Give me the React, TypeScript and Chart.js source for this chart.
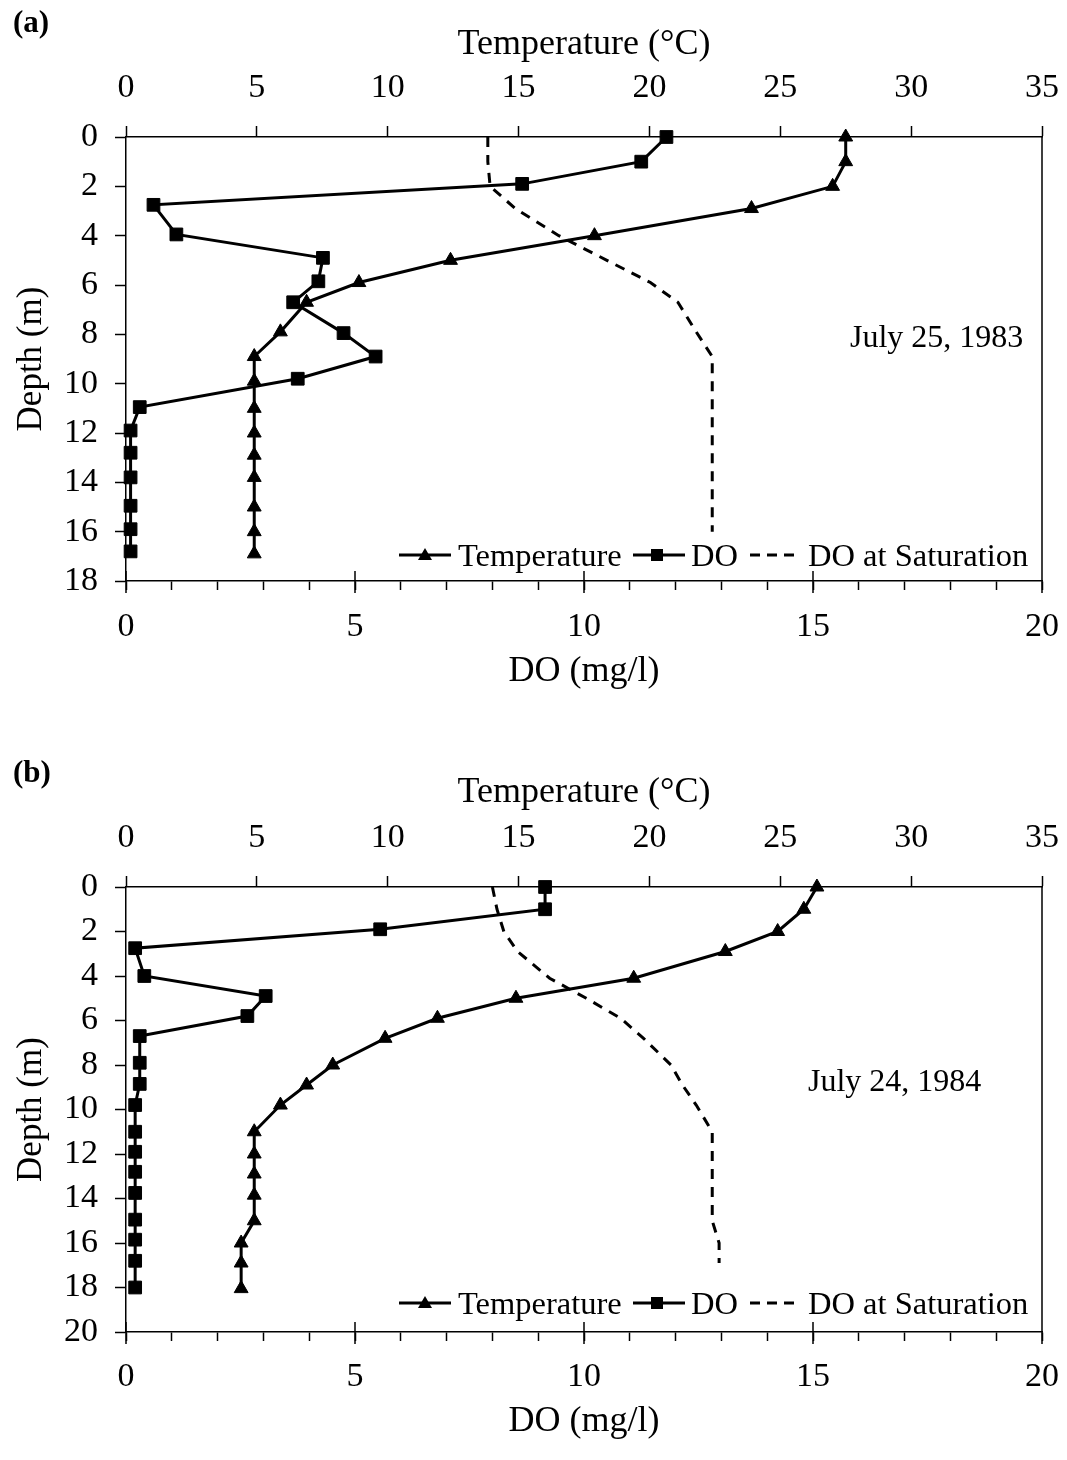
import React, { useEffect, useRef } from 'react';
import { Chart, registerables } from 'chart.js';

Chart.register(...registerables);

const FONT = '"Liberation Serif", "Times New Roman", serif';

// ---------- Panel (a): July 25, 1983 ----------
const tempDepthA = [0, 1, 2, 2.9, 4, 5, 5.9, 6.7, 7.9, 8.9, 9.9, 11, 12, 12.9, 13.8, 15, 16, 16.9];
const tempA = [27.5, 27.5, 27.0, 23.9, 17.9, 12.4, 8.9, 6.9, 5.9, 4.9, 4.9, 4.9, 4.9, 4.9, 4.9, 4.9, 4.9, 4.9];
const doDepthA = [0, 1, 1.9, 2.75, 3.95, 4.9, 5.85, 6.7, 7.95, 8.9, 9.8, 10.95, 11.9, 12.8, 13.8, 14.95, 15.9, 16.8];
const doA = [11.8, 11.25, 8.65, 0.6, 1.1, 4.3, 4.2, 3.65, 4.75, 5.45, 3.75, 0.3, 0.1, 0.1, 0.1, 0.1, 0.1, 0.1];
const satDepthA = [0, 1, 2, 2.9, 4, 5, 5.9, 6.7, 7.9, 8.9, 9.9, 11, 12, 12.9, 13.8, 15, 16];
const satA = [7.9, 7.9, 7.95, 8.5, 9.45, 10.5, 11.45, 12.05, 12.45, 12.8, 12.8, 12.8, 12.8, 12.8, 12.8, 12.8, 12.8];

// ---------- Panel (b): July 24, 1984 ----------
const tempDepthB = [0, 1, 2, 2.9, 4.1, 5, 5.9, 6.8, 8, 8.9, 9.8, 11, 12, 12.9, 13.85, 15, 16, 16.9, 18.05];
const tempB = [26.4, 25.9, 24.9, 22.9, 19.4, 14.9, 11.9, 9.9, 7.9, 6.9, 5.9, 4.9, 4.9, 4.9, 4.9, 4.9, 4.4, 4.4, 4.4];
const doDepthB = [0, 1, 1.9, 2.75, 4, 4.9, 5.8, 6.7, 7.9, 8.85, 9.8, 11, 11.9, 12.8, 13.75, 14.95, 15.85, 16.8, 18];
const doB = [9.15, 9.15, 5.55, 0.2, 0.4, 3.05, 2.65, 0.3, 0.3, 0.3, 0.2, 0.2, 0.2, 0.2, 0.2, 0.2, 0.2, 0.2, 0.2];
const satDepthB = [0, 1, 2, 2.9, 4.1, 5, 5.9, 6.8, 8, 8.9, 9.8, 11, 12, 12.9, 13.85, 15, 16, 16.9];
const satB = [8.0, 8.1, 8.25, 8.55, 9.25, 10.05, 10.8, 11.3, 11.9, 12.15, 12.45, 12.8, 12.8, 12.8, 12.8, 12.8, 12.95, 12.95];

// ---------- Axis / text ----------
const tempRange = [0, 35];
const tempStep = 5;
const doRange = [0, 20];
const doMajorTicks = [0, 5, 10, 15, 20];
const depthStep = 2;
const seriesLabels = ['Temperature', 'DO', 'DO at Saturation'];
const tempTitle = 'Temperature (°C)';
const doTitle = 'DO (mg/l)';
const depthTitle = 'Depth (m)';

interface PanelSpec {
  tempDepth: number[]; temp: number[];
  doDepth: number[]; dov: number[];
  satDepth: number[]; sat: number[];
  depthMax: number;
  topH: number; bottomH: number;
  topTitlePad: number; topTickPad: number;
  bottomTickPad: number; bottomTitlePad: number;
}

const frameExtras = {
  id: 'frameExtras',
  afterDraw(chart: any) {
    const { ctx, chartArea } = chart;
    const xd = chart.scales.xd;
    ctx.save();
    ctx.strokeStyle = '#000';
    ctx.lineWidth = 1.5;
    ctx.beginPath();
    ctx.moveTo(chartArea.right, chartArea.top);
    ctx.lineTo(chartArea.right, chartArea.bottom);
    doMajorTicks.forEach((v) => {
      const px = xd.getPixelForValue(v);
      ctx.moveTo(px, chartArea.bottom - 10);
      ctx.lineTo(px, chartArea.bottom + 12);
    });
    ctx.stroke();
    ctx.restore();
  },
};

function pts(xs: number[], ys: number[]) {
  return xs.map((x, i) => ({ x, y: ys[i] }));
}

function fixH(h: number) {
  return (s: any) => { s.height = h; s.paddingLeft = 0; s.paddingRight = 0; };
}

function buildConfig(p: PanelSpec): any {
  const tickFont = { family: FONT, size: 34, lineHeight: 1 };
  const titleFont = { family: FONT, size: 36, lineHeight: 1 };
  const common = {
    showLine: true,
    borderColor: '#000',
    backgroundColor: '#000',
    pointBorderColor: '#000',
    pointBackgroundColor: '#000',
    pointBorderWidth: 1,
    tension: 0,
    clip: false,
    yAxisID: 'y',
  };
  return {
    type: 'scatter',
    data: {
      datasets: [
        { ...common, label: seriesLabels[2], data: pts(p.sat, p.satDepth), xAxisID: 'xd', borderWidth: 3, borderDash: [10, 8], pointRadius: 0 },
        { ...common, label: seriesLabels[0], data: pts(p.temp, p.tempDepth), xAxisID: 'xt', borderWidth: 3, pointStyle: 'triangle', pointRadius: 8 },
        { ...common, label: seriesLabels[1], data: pts(p.dov, p.doDepth), xAxisID: 'xd', borderWidth: 3, pointStyle: 'rect', pointRadius: 9 },
      ],
    },
    options: {
      responsive: false,
      animation: false,
      events: [],
      layout: { padding: { left: 0, right: 25, top: 0, bottom: 0 } },
      plugins: { legend: { display: false }, tooltip: { enabled: false }, title: { display: false } },
      scales: {
        xt: {
          type: 'linear', position: 'top', min: tempRange[0], max: tempRange[1],
          afterFit: fixH(p.topH),
          ticks: { stepSize: tempStep, padding: p.topTickPad, font: tickFont, color: '#000', autoSkip: false, maxRotation: 0 },
          grid: { drawOnChartArea: false, tickLength: 11, tickColor: '#000', tickWidth: 1.5 },
          border: { color: '#000', width: 1.5 },
          title: { display: true, text: tempTitle, font: titleFont, color: '#000', padding: { top: p.topTitlePad, bottom: 0 } },
        },
        xd: {
          type: 'linear', position: 'bottom', min: doRange[0], max: doRange[1],
          afterFit: fixH(p.bottomH),
          ticks: {
            stepSize: 1, padding: p.bottomTickPad, font: tickFont, color: '#000', autoSkip: false, maxRotation: 0,
            callback: (v: any) => (doMajorTicks.includes(Number(v)) ? String(v) : ''),
          },
          grid: { drawOnChartArea: false, tickLength: 9, tickColor: '#000', tickWidth: 1.5 },
          border: { color: '#000', width: 1.5 },
          title: { display: true, text: doTitle, font: titleFont, color: '#000', padding: { top: 0, bottom: p.bottomTitlePad } },
        },
        y: {
          type: 'linear', position: 'left', reverse: true, min: 0, max: p.depthMax,
          afterFit: (s: any) => { s.width = 126; s.paddingTop = 0; s.paddingBottom = 0; },
          ticks: { stepSize: depthStep, padding: 17, font: tickFont, color: '#000', autoSkip: false },
          grid: { drawOnChartArea: false, tickLength: 11, tickColor: '#000', tickWidth: 1.5 },
          border: { color: '#000', width: 1.5 },
          title: { display: true, text: depthTitle, font: { family: FONT, size: 35, lineHeight: 1 }, color: '#000', padding: { top: 14, bottom: 0 } },
        },
      },
    },
    plugins: [frameExtras],
  };
}

function Panel({ spec, top }: { spec: PanelSpec; top: number }) {
  const ref = useRef<HTMLCanvasElement | null>(null);
  useEffect(() => {
    if (!ref.current) return;
    const chart = new Chart(ref.current, buildConfig(spec));
    return () => chart.destroy();
  }, []);
  return (
    <canvas
      ref={ref}
      width={1067}
      height={730}
      style={{ position: 'absolute', left: 0, top, width: 1067, height: 730, display: 'block' }}
    />
  );
}

function Legend({ centerY }: { centerY: number }) {
  const txt: React.CSSProperties = { position: 'absolute', top: 0, fontFamily: FONT, fontSize: 32.5, lineHeight: '40px', color: '#000', whiteSpace: 'nowrap' };
  return (
    <div style={{ position: 'absolute', left: 0, top: centerY - 20, width: 1067, height: 40 }}>
      <svg width={1067} height={40} style={{ position: 'absolute', left: 0, top: 0 }}>
        <line x1={399} y1={20} x2={451} y2={20} stroke="#000" strokeWidth={3} />
        <polygon points="425,13 432,25 418,25" fill="#000" />
        <line x1={633} y1={20} x2={685} y2={20} stroke="#000" strokeWidth={3} />
        <rect x={651} y={14} width={12} height={12} fill="#000" />
        <line x1={750} y1={20} x2={794} y2={20} stroke="#000" strokeWidth={3} strokeDasharray="10 7" />
      </svg>
      <span style={{ ...txt, left: 458 }}>{seriesLabels[0]}</span>
      <span style={{ ...txt, left: 691 }}>{seriesLabels[1]}</span>
      <span style={{ ...txt, left: 808 }}>{seriesLabels[2]}</span>
    </div>
  );
}

const specA: PanelSpec = {
  tempDepth: tempDepthA, temp: tempA, doDepth: doDepthA, dov: doA, satDepth: satDepthA, sat: satA,
  depthMax: 18, topH: 137, bottomH: 149, topTitlePad: 27, topTickPad: 21, bottomTickPad: 20, bottomTitlePad: 40,
};
const specB: PanelSpec = {
  tempDepth: tempDepthB, temp: tempB, doDepth: doDepthB, dov: doB, satDepth: satDepthB, sat: satB,
  depthMax: 20, topH: 157, bottomH: 128, topTitlePad: 45, topTickPad: 21, bottomTickPad: 19, bottomTitlePad: 20,
};

export default function App() {
  const label: React.CSSProperties = { position: 'absolute', fontFamily: FONT, fontWeight: 'bold', fontSize: 31, lineHeight: '31px', color: '#000' };
  const note: React.CSSProperties = { position: 'absolute', fontFamily: FONT, fontSize: 32, lineHeight: '32px', color: '#000', whiteSpace: 'nowrap' };
  return (
    <div style={{ position: 'absolute', left: 0, top: 0, width: 1067, height: 1460, background: '#fff', overflow: 'hidden' }}>
      <Panel spec={specA} top={0} />
      <Panel spec={specB} top={730} />
      <div style={{ ...label, left: 13, top: 6 }}>(a)</div>
      <div style={{ ...label, left: 13, top: 756 }}>(b)</div>
      <div style={{ ...note, left: 850, top: 320 }}>July 25, 1983</div>
      <div style={{ ...note, left: 808, top: 1064 }}>July 24, 1984</div>
      <Legend centerY={555} />
      <Legend centerY={1303} />
    </div>
  );
}
